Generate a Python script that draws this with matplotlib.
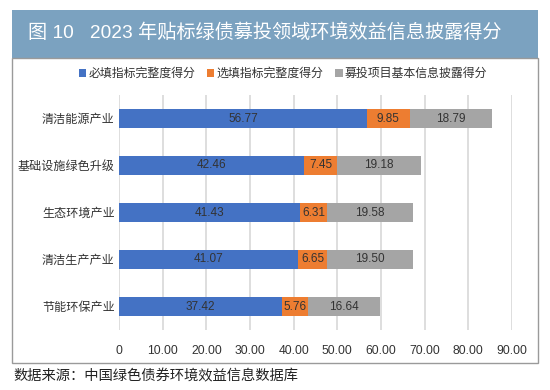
import numpy as np
import matplotlib
matplotlib.use('Agg')
import matplotlib.pyplot as plt
from matplotlib.patches import Rectangle

plt.rcParams['font.family'] = ['Liberation Sans', 'Noto Sans CJK SC', 'DejaVu Sans']

# data (top to bottom)
categories = ['清洁能源产业', '基础设施绿色升级', '生态环境产业', '清洁生产产业', '节能环保产业']
required_score = [56.77, 42.46, 41.43, 41.07, 37.42]
optional_score = [9.85, 7.45, 6.31, 6.65, 5.76]
basic_info_score = [18.79, 19.18, 19.58, 19.50, 16.64]
series_names = ['必填指标完整度得分', '选填指标完整度得分', '募投项目基本信息披露得分']
xticks = [0, 10, 20, 30, 40, 50, 60, 70, 80, 90]
xtick_labels = ['0'] + ['%.2f' % v for v in xticks[1:]]

colors = ['#4472C4', '#ED7D31', '#A5A5A5']

fig = plt.figure(figsize=(5.5, 3.9), dpi=100)

# header band + frame
fig.patches.append(Rectangle((12/550, 1-58/390), 526/550, 48/390, transform=fig.transFigure,
                             facecolor='#7BA2C0', edgecolor='none', zorder=0))
fig.patches.append(Rectangle((12/550, 1-363/390), 526/550, 305/390, transform=fig.transFigure,
                             facecolor='none', edgecolor='#9a9a9a', lw=1.0, zorder=0))
fig.text(28/550, 1-33/390, '图 10   2023 年贴标绿债募投领域环境效益信息披露得分',
         color='white', fontsize=13.8, va='center', ha='left')
fig.text(13/550, 1-376/390, '数据来源：中国绿色债券环境效益信息数据库',
         color='#222222', fontsize=10.3, va='center', ha='left')

ax = fig.add_axes([119/550, 1-330/390, 393/550, 235/390])
y = np.arange(len(categories))
series = [required_score, optional_score, basic_info_score]
left = np.zeros(len(categories))
bars = []
for vals, c, name in zip(series, colors, series_names):
    vals = np.array(vals)
    b = ax.barh(y, vals, left=left, height=0.385, color=c, label=name, zorder=3)
    bars.append(b)
    for yi, (l, v) in enumerate(zip(left, vals)):
        ax.text(l + v/2, yi, '%.2f' % v, ha='center', va='center',
                fontsize=8.5, color='#333333', zorder=4)
    left = left + vals

ax.set_ylim(4.5, -0.5)
ax.set_xlim(0, 90)
ax.set_yticks(y)
ax.set_yticklabels(categories, fontsize=8.7, color='#333333')
ax.set_xticks(xticks)
ax.set_xticklabels(xtick_labels, fontsize=8.7, color='#333333')
ax.tick_params(length=0, pad=3)
ax.tick_params(axis='x', pad=11)
ax.grid(axis='x', color='#d4d4d4', lw=1.1, zorder=0)
for s in ax.spines.values():
    s.set_visible(False)

fig.legend(handles=bars, labels=series_names, loc='center', bbox_to_anchor=(283/550, 1-74/390),
           ncol=3, frameon=False, fontsize=8.6, handlelength=0.6, handleheight=0.6,
           handletextpad=0.2, columnspacing=1.0, labelcolor='#333333')

fig.savefig('out.png', dpi=100)
